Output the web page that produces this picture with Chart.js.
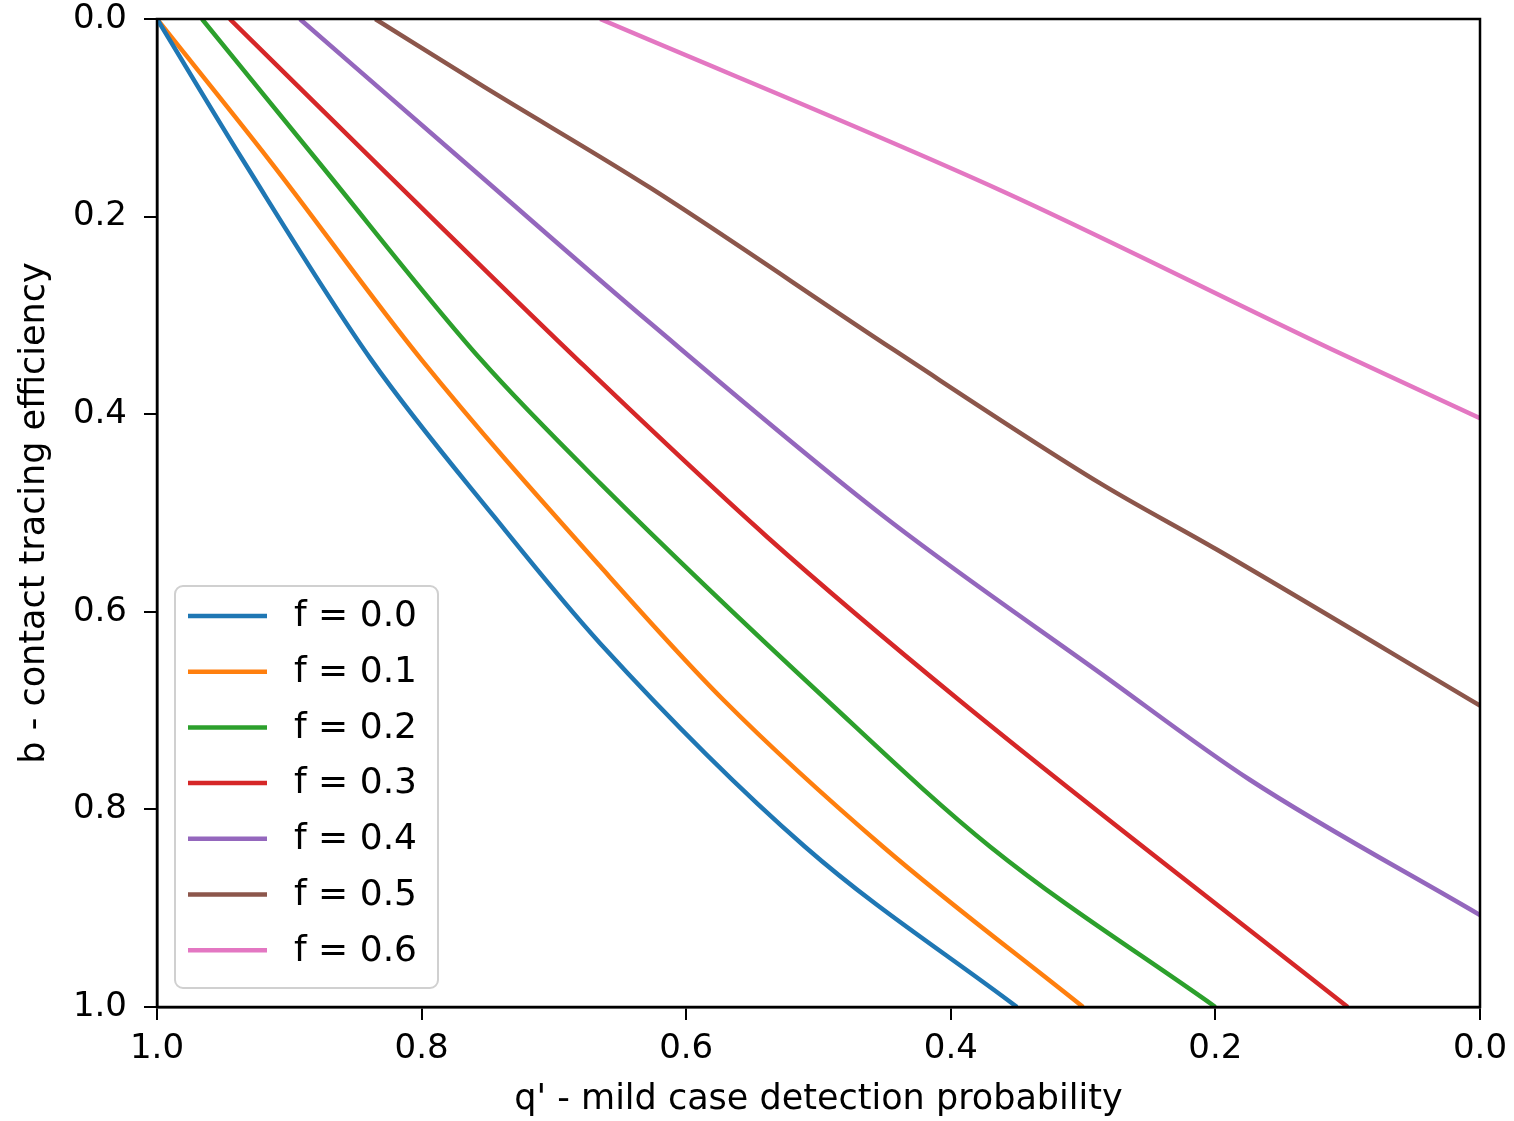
<!DOCTYPE html>
<html>
<head>
<meta charset="utf-8">
<script src="https://cdn.jsdelivr.net/npm/chart.js@4.4.0/dist/chart.umd.min.js"></script>
<style>
    html, body { margin: 0; padding: 0; background: #fff; }
    #wrap { width: 1514px; height: 1121px; }
</style>
</head>
<body>
<div id="wrap"><canvas id="lineChart" width="1514" height="1121"></canvas></div>
<script>
// series labels
const fLabels = ["f = 0.0", "f = 0.1", "f = 0.2", "f = 0.3", "f = 0.4", "f = 0.5", "f = 0.6"];

// q' (x) and b (y), one pair of arrays per curve
const q0 = [1.0, 0.935, 0.838, 0.745, 0.665, 0.51, 0.35];
const b0 = [0.0, 0.143, 0.345, 0.504, 0.632, 0.838, 1.0];

const q1 = [1.0, 0.915, 0.8, 0.665, 0.572, 0.451, 0.3];
const b1 = [0.0, 0.143, 0.345, 0.554, 0.689, 0.838, 1.0];

const q2 = [0.966, 0.879, 0.755, 0.665, 0.494, 0.37, 0.2];
const b2 = [0.0, 0.143, 0.345, 0.47, 0.689, 0.838, 1.0];

const q3 = [0.945, 0.829, 0.682, 0.539, 0.394, 0.1];
const b3 = [0.0, 0.153, 0.345, 0.524, 0.689, 1.0];

const q4 = [0.892, 0.764, 0.627, 0.45, 0.287, 0.174, 0.0];
const b4 = [0.0, 0.149, 0.308, 0.504, 0.662, 0.77, 0.907];

const q5 = [0.835, 0.753, 0.627, 0.443, 0.287, 0.199, 0.0];
const b5 = [0.0, 0.0685, 0.171, 0.335, 0.47, 0.537, 0.695];

const q6 = [0.665, 0.363, 0.111, 0.0];
const b6 = [0.0, 0.173, 0.335, 0.404];

// axis ticks
const tickValues = [0.0, 0.2, 0.4, 0.6, 0.8, 1.0];

const colors = ["#1f77b4", "#ff7f0e", "#2ca02c", "#d62728", "#9467bd", "#8c564b", "#e377c2"];
const FONT = "'DejaVu Sans', 'Liberation Sans', sans-serif";

const qs = [q0, q1, q2, q3, q4, q5, q6];
const bs = [b0, b1, b2, b3, b4, b5, b6];

const datasets = fLabels.map((label, i) => ({
    label: label,
    data: qs[i].map((q, j) => ({ x: q, y: bs[i][j] })),
    borderColor: colors[i],
    backgroundColor: colors[i],
    borderWidth: 4.5,
    pointRadius: 0,
    cubicInterpolationMode: "monotone",
    fill: false
}));

// black frame round the plot area
const framePlugin = {
    id: "frame",
    afterDatasetsDraw(chart) {
        const { ctx, chartArea: a } = chart;
        ctx.save();
        ctx.strokeStyle = "#000";
        ctx.lineWidth = 2.5;
        ctx.strokeRect(a.left, a.top, a.right - a.left, a.bottom - a.top);
        ctx.restore();
    }
};

// matplotlib style legend box inside the axes, lower left
const legendPlugin = {
    id: "boxLegend",
    afterDraw(chart) {
        const ctx = chart.ctx;
        const x = 175, y = 586, w = 263, h = 402, r = 8;
        ctx.save();
        ctx.beginPath();
        ctx.roundRect(x, y, w, h, r);
        ctx.fillStyle = "rgba(255,255,255,0.85)";
        ctx.fill();
        ctx.strokeStyle = "#d0d0d0";
        ctx.lineWidth = 2;
        ctx.stroke();
        ctx.font = "36px " + FONT;
        ctx.textBaseline = "middle";
        ctx.textAlign = "left";
        chart.data.datasets.forEach((ds, i) => {
            const cy = 616 + i * 55.7;
            ctx.beginPath();
            ctx.moveTo(188, cy);
            ctx.lineTo(267, cy);
            ctx.strokeStyle = ds.borderColor;
            ctx.lineWidth = 4.5;
            ctx.stroke();
            ctx.fillStyle = "#000";
            ctx.fillText(ds.label, 294, cy + 1);
        });
        ctx.restore();
    }
};

document.addEventListener("DOMContentLoaded", () => {
    const ctx = document.getElementById("lineChart");

    new Chart(ctx, {
        type: "line",
        data: { datasets: datasets },
        options: {
            responsive: false,
            animation: false,
            layout: { padding: { top: 19, right: 34, left: 0, bottom: 0 } },
            plugins: {
                legend: { display: false },
                tooltip: { enabled: false }
            },
            scales: {
                x: {
                    type: "linear",
                    reverse: true,
                    min: 0,
                    max: 1,
                    afterBuildTicks: (scale) => { scale.ticks = tickValues.map(v => ({ value: v })); },
                    afterFit: (scale) => { scale.height = 114; },
                    ticks: {
                        color: "#000",
                        font: { family: FONT, size: 34 },
                        padding: 9,
                        maxRotation: 0,
                        callback: (v) => Number(v).toFixed(1)
                    },
                    grid: {
                        display: true,
                        drawOnChartArea: false,
                        drawTicks: true,
                        tickLength: 13,
                        color: "#000",
                        lineWidth: 2
                    },
                    border: { display: true, color: "#000", width: 2.5 },
                    title: {
                        display: true,
                        text: "q' - mild case detection probability",
                        color: "#000",
                        font: { family: FONT, size: 35 },
                        padding: { top: 0, bottom: 0 }
                    }
                },
                y: {
                    type: "linear",
                    reverse: true,
                    min: 0,
                    max: 1,
                    afterBuildTicks: (scale) => { scale.ticks = tickValues.map(v => ({ value: v })); },
                    afterFit: (scale) => {
                        scale.width = 157;
                        scale.paddingTop = 0;
                        scale.paddingBottom = 0;
                    },
                    ticks: {
                        color: "#000",
                        font: { family: FONT, size: 34 },
                        padding: 17,
                        callback: (v) => Number(v).toFixed(1)
                    },
                    grid: {
                        display: true,
                        drawOnChartArea: false,
                        drawTicks: true,
                        tickLength: 13,
                        color: "#000",
                        lineWidth: 2
                    },
                    border: { display: true, color: "#000", width: 2.5 },
                    title: {
                        display: true,
                        text: "b - contact tracing efficiency",
                        color: "#000",
                        font: { family: FONT, size: 35 },
                        padding: { top: 14, bottom: 0 }
                    }
                }
            }
        },
        plugins: [framePlugin, legendPlugin]
    });
});
</script>
</body>
</html>
